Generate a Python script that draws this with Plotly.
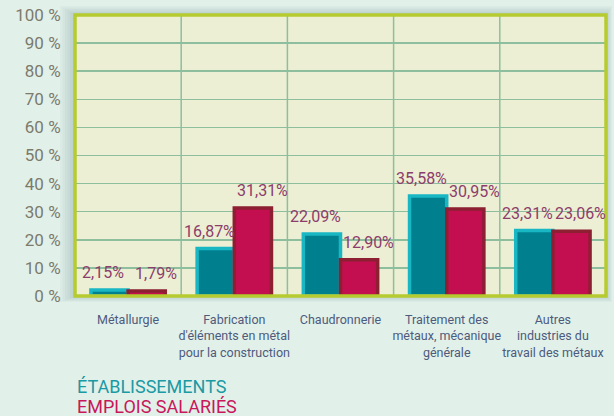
import plotly.graph_objects as go

categories = [
    "Métallurgie",
    "Fabrication<br>d'éléments en métal<br>pour la construction",
    "Chaudronnerie",
    "Traitement des<br>métaux, mécanique<br>générale",
    "Autres<br>industries du<br>travail des métaux",
]
etablissements = [2.15, 16.87, 22.09, 35.58, 23.31]
emplois = [1.79, 31.31, 12.90, 30.95, 23.06]
y_ticks = list(range(0, 101, 10))
y_tick_labels = [f"{v} %" for v in y_ticks]

def fmt(v):
    return f"{v:.2f}".replace(".", ",") + "%"

label_font = dict(family="Roboto", size=16, color="#8c3d6b")

fig = go.Figure()
fig.add_trace(go.Bar(
    x=categories, y=etablissements, name="ÉTABLISSEMENTS",
    marker=dict(color="#00808f", line=dict(color="#19b6c4", width=3.5)),
    cliponaxis=False,
))
fig.add_trace(go.Bar(
    x=categories, y=emplois, name="EMPLOIS SALARIÉS",
    marker=dict(color="#c30f50", line=dict(color="#8c1f32", width=3.5)),
    cliponaxis=False,
))

annotations = []
for cat, v in zip(categories, etablissements):
    annotations.append(dict(x=cat, y=v, xref="x", yref="y", text=fmt(v), showarrow=False,
                            xanchor="center", yanchor="bottom", xshift=-25, yshift=6,
                            font=label_font))
for cat, v in zip(categories, emplois):
    annotations.append(dict(x=cat, y=v, xref="x", yref="y", text=fmt(v), showarrow=False,
                            xanchor="center", yanchor="bottom", xshift=28, yshift=6,
                            font=label_font))
annotations += [
    dict(text="ÉTABLISSEMENTS", xref="paper", yref="paper", x=0, y=-0.323,
         xanchor="left", yanchor="middle", showarrow=False,
         font=dict(family="Roboto", size=18, color="#1a9aa3")),
    dict(text="EMPLOIS SALARIÉS", xref="paper", yref="paper", x=0, y=-0.394,
         xanchor="left", yanchor="middle", showarrow=False,
         font=dict(family="Roboto", size=18, color="#c8175a")),
]

grid_color = "#8dbf9e"
plot_w, plot_h = 531, 281
shapes = []
# soft shadow around the plot area
for k in range(1, 7):
    dx, dy = 2.5 * k / plot_w, 2.5 * k / plot_h
    shapes.append(dict(type="rect", xref="paper", yref="paper",
                       x0=-dx, x1=1 + dx * 0.4, y0=-dy * 0.4, y1=1 + dy * 0.6,
                       line=dict(width=0), fillcolor="rgba(70,110,120,0.045)", layer="below"))
# plot background panel
shapes.append(dict(type="rect", xref="paper", yref="paper", x0=0, x1=1, y0=0, y1=1,
                   line=dict(width=0), fillcolor="#ecefd3", layer="below"))
for i in range(len(categories) - 1):
    shapes.append(dict(type="line", xref="x", yref="paper", x0=i + 0.5, x1=i + 0.5,
                       y0=0, y1=1, line=dict(color=grid_color, width=1.5), layer="between"))
shapes.append(dict(type="rect", xref="paper", yref="paper", x0=0, x1=1, y0=0, y1=1,
                   line=dict(color="#b6cb2f", width=3.5), layer="above"))

fig.update_layout(
    width=614, height=416,
    margin=dict(l=75, r=8, t=15, b=120, autoexpand=False),
    paper_bgcolor="#e2f0ea",
    plot_bgcolor="rgba(0,0,0,0)",
    barmode="group", bargap=0.3, bargroupgap=0,
    showlegend=False,
    shapes=shapes,
    annotations=annotations,
    xaxis=dict(
        automargin=False, tickangle=0,
        showgrid=False, zeroline=False, showline=False,
        tickfont=dict(family="Roboto", size=12.5, color="#4d5b7c"),
        ticks="outside", ticklen=12, tickcolor="rgba(0,0,0,0)",
        range=[-0.5, 4.5],
    ),
    yaxis=dict(
        automargin=False,
        range=[0, 100], tickvals=y_ticks, ticktext=y_tick_labels,
        showgrid=True, gridcolor=grid_color, gridwidth=1.5,
        zeroline=False, showline=False,
        tickfont=dict(family="Roboto", size=17, color="#7b7b6c"),
        ticks="outside", ticklen=10, tickcolor="rgba(0,0,0,0)",
    ),
)

fig.write_html(
    "out.html",
    config={"displayModeBar": False, "staticPlot": True},
    post_script="document.body.style.margin='0';document.body.style.background='#e2f0ea';",
)
